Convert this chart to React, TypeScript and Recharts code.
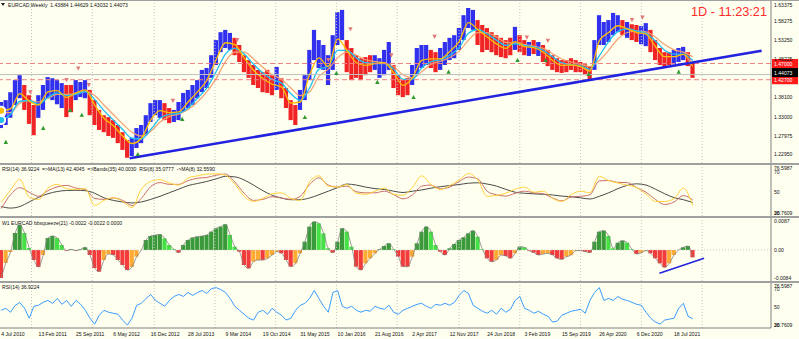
import React from "react";
import {
  ComposedChart,
  Bar,
  Line,
  XAxis,
  YAxis,
  ReferenceLine,
  ReferenceDot,
  Cell,
} from "recharts";

// EURCAD weekly. one price point = 4 weeks.
const STEP = 4;

const high = [
  1.368, 1.373, 1.394, 1.426, 1.439, 1.413, 1.386, 1.36, 1.386, 1.413,
  1.434, 1.431, 1.426, 1.418, 1.413, 1.413, 1.426, 1.421, 1.426, 1.4,
  1.373, 1.347, 1.333, 1.328, 1.32, 1.307, 1.288, 1.267, 1.273, 1.299,
  1.307, 1.333, 1.365, 1.373, 1.373, 1.365, 1.352, 1.347, 1.368, 1.392,
  1.4, 1.413, 1.426, 1.453, 1.458, 1.492, 1.532, 1.553, 1.559, 1.551,
  1.538, 1.519, 1.492, 1.479, 1.466, 1.453, 1.447, 1.453, 1.439, 1.461,
  1.431, 1.405, 1.373, 1.36, 1.4, 1.439, 1.506, 1.559, 1.532, 1.519,
  1.492, 1.545, 1.606, 1.612, 1.532, 1.511, 1.492, 1.484, 1.487, 1.492,
  1.492, 1.484, 1.506, 1.527, 1.466, 1.439, 1.426, 1.431, 1.466, 1.511,
  1.519, 1.519, 1.506, 1.5, 1.511, 1.527, 1.538, 1.545, 1.564, 1.598,
  1.617, 1.612, 1.585, 1.572, 1.564, 1.553, 1.545, 1.538, 1.532, 1.538,
  1.567, 1.545, 1.532, 1.527, 1.532, 1.527, 1.519, 1.506, 1.492, 1.484,
  1.479, 1.479, 1.484, 1.479, 1.474, 1.468, 1.463, 1.532, 1.598, 1.58,
  1.585, 1.604, 1.598, 1.585, 1.58, 1.574, 1.572, 1.569, 1.577, 1.559,
  1.532, 1.511, 1.5, 1.5, 1.506, 1.511, 1.514, 1.5, 1.474,
];

const low = [
  1.299, 1.307, 1.326, 1.36, 1.378, 1.347, 1.31, 1.28, 1.326, 1.347,
  1.378, 1.373, 1.362, 1.352, 1.328, 1.341, 1.373, 1.381, 1.378, 1.333,
  1.307, 1.294, 1.288, 1.278, 1.273, 1.259, 1.241, 1.22, 1.225, 1.246,
  1.259, 1.28, 1.315, 1.333, 1.326, 1.32, 1.312, 1.315, 1.32, 1.342,
  1.352, 1.36, 1.378, 1.394, 1.405, 1.432, 1.466, 1.5, 1.511, 1.506,
  1.492, 1.474, 1.447, 1.432, 1.413, 1.405, 1.394, 1.392, 1.386, 1.4,
  1.378, 1.352, 1.32, 1.307, 1.347, 1.373, 1.426, 1.479, 1.458, 1.453,
  1.413, 1.453, 1.519, 1.532, 1.447, 1.426, 1.432, 1.426, 1.439, 1.447,
  1.453, 1.432, 1.439, 1.453, 1.405, 1.386, 1.381, 1.386, 1.413, 1.439,
  1.458, 1.466, 1.458, 1.447, 1.453, 1.466, 1.479, 1.484, 1.506, 1.532,
  1.564, 1.559, 1.519, 1.5, 1.506, 1.5, 1.492, 1.487, 1.484, 1.492,
  1.506, 1.5, 1.492, 1.49, 1.495, 1.49, 1.474, 1.463, 1.453, 1.447,
  1.445, 1.447, 1.453, 1.447, 1.447, 1.439, 1.426, 1.453, 1.519, 1.519,
  1.527, 1.545, 1.553, 1.545, 1.538, 1.532, 1.527, 1.521, 1.516, 1.5,
  1.479, 1.466, 1.461, 1.466, 1.468, 1.474, 1.479, 1.463, 1.432,
];

// bar colour runs: u = blue (up), d = red (down)
const trendRuns: [string, number][] = [
  ["u", 5], ["d", 3], ["u", 6], ["d", 2], ["u", 3], ["d", 9], ["u", 6],
  ["u", 1], ["d", 2], ["u", 1], ["u", 12], ["d", 9], ["u", 1], ["d", 4],
  ["u", 10], ["d", 6], ["u", 4], ["d", 4], ["u", 4], ["d", 2], ["u", 8],
  ["d", 8], ["u", 1], ["d", 2], ["u", 1], ["d", 1], ["u", 1], ["d", 11],
  ["u", 6], ["d", 1], ["u", 1], ["d", 2], ["u", 2], ["d", 5], ["u", 3],
  ["d", 2],
];

// moving averages, one value every 8 weeks
const maFast = [
  1.345, 1.35, 1.39, 1.37, 1.36, 1.395, 1.398, 1.38, 1.392, 1.4, 1.36, 1.325,
  1.305, 1.278, 1.258, 1.272, 1.32, 1.345, 1.34, 1.342, 1.368, 1.395, 1.425,
  1.48, 1.525, 1.52, 1.485, 1.452, 1.43, 1.415, 1.408, 1.365, 1.368, 1.44,
  1.485, 1.462, 1.535, 1.505, 1.472, 1.465, 1.47, 1.472, 1.445, 1.412, 1.432,
  1.478, 1.482, 1.482, 1.502, 1.528, 1.578, 1.56, 1.54, 1.522, 1.51, 1.528,
  1.515, 1.512, 1.5, 1.478, 1.465, 1.466, 1.462, 1.45, 1.53, 1.552, 1.57,
  1.562, 1.552, 1.548, 1.515, 1.488, 1.488, 1.494, 1.462,
];
const maMid = [
  1.32, 1.335, 1.37, 1.372, 1.362, 1.38, 1.392, 1.385, 1.388, 1.395, 1.375,
  1.345, 1.32, 1.295, 1.272, 1.27, 1.295, 1.325, 1.335, 1.338, 1.352, 1.378,
  1.405, 1.448, 1.495, 1.51, 1.495, 1.468, 1.445, 1.428, 1.418, 1.39, 1.372,
  1.405, 1.455, 1.462, 1.505, 1.505, 1.485, 1.472, 1.47, 1.47, 1.455, 1.428,
  1.428, 1.458, 1.475, 1.48, 1.492, 1.512, 1.55, 1.56, 1.548, 1.532, 1.518,
  1.522, 1.518, 1.514, 1.505, 1.488, 1.472, 1.467, 1.464, 1.455, 1.49, 1.528,
  1.555, 1.562, 1.556, 1.55, 1.53, 1.505, 1.495, 1.495, 1.478,
];
const maSlow = [
  1.34, 1.34, 1.365, 1.372, 1.368, 1.378, 1.388, 1.388, 1.39, 1.396, 1.385,
  1.36, 1.335, 1.31, 1.288, 1.278, 1.29, 1.315, 1.33, 1.336, 1.348, 1.368,
  1.395, 1.43, 1.475, 1.5, 1.5, 1.482, 1.46, 1.44, 1.428, 1.405, 1.385, 1.395,
  1.435, 1.455, 1.485, 1.5, 1.492, 1.48, 1.475, 1.472, 1.462, 1.44, 1.432,
  1.448, 1.468, 1.476, 1.486, 1.502, 1.532, 1.552, 1.552, 1.54, 1.526, 1.524,
  1.52, 1.516, 1.51, 1.496, 1.482, 1.474, 1.468, 1.462, 1.478, 1.505, 1.535,
  1.552, 1.556, 1.554, 1.54, 1.52, 1.506, 1.5, 1.488,
];

// RSI panel, one value every 8 weeks
const RSI_STEP = 8;
const rsiFast = [
  40, 52, 62.7, 45, 43, 54, 57.7, 53.5, 52.7, 53.5, 37, 42, 44.5, 41, 35, 53,
  60.5, 62.3, 59, 57, 64, 66, 67.7, 68, 66.5, 58, 46, 41, 44, 48.5, 49.4, 44,
  42, 60, 66, 56, 55, 57.5, 49, 48, 51, 54, 48, 47, 54.7, 66, 57.5, 52.7, 56.5,
  62, 68.2, 62, 46, 46.9, 49, 53, 55, 50, 51, 44, 41, 47.7, 51, 49.5, 65.5,
  61.4, 59, 56.8, 54.5, 48, 41, 41, 43.7, 54, 37,
];
const rsiMa = [
  34, 47.5, 54.4, 50, 46, 51.5, 55.3, 56.7, 54, 52.8, 44, 43, 44.4, 42, 37, 44,
  55.5, 59.4, 57.7, 57.7, 61.3, 63.7, 64.4, 66.6, 67.7, 60, 49, 42, 43, 45.6,
  44.3, 43, 46, 57.5, 64, 57, 55, 56, 50.5, 49.4, 49.4, 51, 47.7, 43.5, 47.3,
  56, 57, 53.4, 55, 60.5, 64.8, 63, 51, 47.5, 46.2, 49, 51, 49.4, 48.5, 44.4,
  41.5, 45.4, 46, 47.5, 61, 61.4, 59.6, 59.4, 54.5, 50, 43, 38, 40.5, 46.7,
  42.4,
];
const rsiBand = [
  36, 34.5, 36, 40.5, 45, 48.5, 50.7, 51.7, 51.9, 51.5, 49, 44.5, 42, 40.5,
  39.5, 40.5, 43, 46, 49.5, 53, 56.5, 58.5, 60.5, 63, 65.5, 65, 62, 57, 51.5,
  47, 44.3, 42.7, 42.7, 44.4, 47.5, 51, 54.5, 58, 57, 55, 53.5, 52.7, 51, 49.7,
  51, 52.2, 54, 55.4, 56.5, 57.5, 58.8, 59.2, 58, 56, 52.8, 50, 49, 48.4, 48,
  47.3, 46.2, 45.6, 44.5, 43.4, 46, 49.4, 53.5, 56.7, 58.2, 57, 53, 48.5, 44.7,
  42.7, 40,
];

// bbsqueeze histogram, every 4 weeks
const squeeze = [
  -0.0084, -0.0039, -0.0006, 0.0051, 0.0075, 0.0051, 0.0006, -0.003, -0.0051,
  -0.0015, 0.0036, 0.0042, 0.0036, 0.0015, -0.0002, 0.0002, -0.0002, 0.0002,
  0.0008, -0.0015, -0.0054, -0.0065, -0.003, -0.0012, -0.0015, -0.003,
  -0.0045, -0.006, -0.0051, -0.002, 0.0, 0.003, 0.0042, 0.0045, 0.0047,
  0.0035, 0.0015, 0.0002, -0.0008, 0.0015, 0.003, 0.0037, 0.004, 0.0042,
  0.0045, 0.0055, 0.0065, 0.007, 0.0077, 0.0045, 0.001, -0.0005, -0.0045,
  -0.0055, -0.0035, -0.003, -0.003, -0.0025, -0.0015, -0.0005, -0.001, -0.003,
  -0.005, -0.004, -0.001, 0.0025, 0.007, 0.0085, 0.008, 0.005, 0.0005,
  -0.0008, 0.0025, 0.0065, 0.0055, 0.001, -0.005, -0.006, -0.004, -0.0025,
  -0.001, 0.0002, 0.0012, 0.002, 0.0002, -0.002, -0.005, -0.005, -0.002,
  0.002, 0.0055, 0.007, 0.0055, 0.0015, -0.0005, -0.0015, 0.0005, 0.0018,
  0.003, 0.0038, 0.005, 0.0058, 0.004, 0.0002, -0.0025, -0.0035, -0.003,
  -0.0015, -0.0018, -0.0025, -0.001, 0.001, 0.0008, -0.0002, -0.0008, -0.0015,
  -0.0012, -0.001, -0.0015, -0.0025, -0.0028, -0.002, -0.0015, -0.0002,
  -0.0002, -0.0005, -0.0008, 0.0025, 0.0055, 0.0058, 0.0042, 0.0005, 0.0022,
  0.0028, 0.0022, 0.0002, -0.0012, -0.0008, -0.0002, -0.001, -0.0025, -0.004,
  -0.0052, -0.004, -0.0015, 0.0, 0.0008, 0.0012, -0.0022,
];

// RSI(14) bottom panel, every 4 weeks
const rsi14 = [
  46.4, 48.6, 44.2, 51.9, 55, 48.6, 37.6, 50.8, 51.9, 55.2, 57.3, 54, 59.5, 53,
  57.3, 50.8, 57.3, 53, 46.4, 37.6, 31, 40.9, 46.4, 44.2, 43.1, 42, 35.5, 30,
  37.6, 51.9, 54.1, 59.5, 63.9, 57.3, 54.1, 50.8, 57.3, 61.7, 63.9, 61.7, 66.1,
  62.8, 66.1, 68.3, 65, 70.4, 71.5, 69.3, 66.1, 59.5, 50.8, 46.4, 42, 37.6,
  35.5, 44.2, 46.4, 42, 48.6, 44.2, 40.9, 35.5, 37.6, 46.4, 51.9, 54.1, 59.5,
  68.3, 59.5, 50.8, 44.2, 66.1, 68.3, 50.8, 48.6, 50.8, 46.4, 44.2, 46.4, 45.3,
  50.8, 48.6, 47.5, 51.9, 44.2, 42, 46.4, 48.6, 50.8, 53, 54.1, 50.8, 48.6, 53,
  51.9, 54.1, 51.9, 55.2, 62.8, 68.3, 65, 51.9, 48.6, 45.3, 43.1, 46.4, 42,
  48.6, 44.2, 47.5, 57.3, 61.7, 48.6, 46.4, 43.1, 45.3, 42, 39.8, 33.3, 34.4,
  40.9, 43.1, 45.3, 46.4, 47.5, 43.1, 57.3, 66.1, 71.5, 57.3, 59.5, 57.3, 61.7,
  58.4, 57.3, 55.2, 53, 51.9, 44.2, 37.6, 33.3, 31.1, 35.5, 36.6, 37.6, 48.6,
  54.1, 39.8, 36.9,
];

// arrows [week, price]
const buyArrows = [
  [4, 1.262], [36, 1.299], [59, 1.347], [69, 1.334], [117, 1.23], [155, 1.323],
  [260, 1.328], [287, 1.445], [322, 1.421], [353, 1.381], [383, 1.448],
  [442, 1.479], [466, 1.479], [503, 1.442], [580, 1.448],
];
const sellArrows = [
  [25, 1.394], [56, 1.426], [66, 1.457], [75, 1.413], [147, 1.371],
  [202, 1.532], [280, 1.479], [299, 1.561], [334, 1.492], [371, 1.541],
  [450, 1.539], [468, 1.53], [540, 1.585], [549, 1.592], [589, 1.477],
];

const trendLine = [[110, 1.2189], [651, 1.5039]];
const squeezeTrend = [[563.5, -0.007], [601.7, -0.0025]];

const yearWeeks = [26, 78, 131, 183, 235, 287, 339, 392, 444, 496, 548, 600];
const labelWeeks = [
  0, 32, 64, 96, 128, 160, 192, 224, 256, 288, 320, 352, 384, 416, 448, 480,
  512, 544, 576,
];
const dateLabels = [
  "4 Jul 2010", "13 Feb 2011", "25 Sep 2011", "6 May 2012", "16 Dec 2012",
  "28 Jul 2013", "9 Mar 2014", "19 Oct 2014", "31 May 2015", "10 Jan 2016",
  "21 Aug 2016", "2 Apr 2017", "12 Nov 2017", "24 Jun 2018", "3 Feb 2019",
  "15 Sep 2019", "26 Apr 2020", "6 Dec 2020", "18 Jul 2021",
];
const priceTicks = [
  1.2295, 1.27975, 1.33, 1.381, 1.48225, 1.5325, 1.58275, 1.63375,
];
const rsiTicks = [26.7609, 30, 50, 70, 76.5987];
const squeezeTicks = [-0.0084, 0, 0.0087];

const resistance = 1.47;
const support = 1.427;
const lastPrice = 1.44073;

// ---- layout / style ----
const W = 799;
const AXIS_W = 28;
const X_DOMAIN: [number, number] = [-1, 659];
const PRICE_DOMAIN: [number, number] = [1.2064, 1.6382];
const RSI_DOMAIN: [number, number] = [26.7609, 76.5987];
const SQ_DOMAIN: [number, number] = [-0.0093, 0.0096];
const FONT = "'Liberation Sans', Arial, sans-serif";
const BG = "#fffff0";
const GRID = "#c4c4c4";
const BLUE = "#3030ee";
const RED = "#f02424";
const M0 = { top: 0, right: 0, bottom: 0, left: 0 };

const trend = trendRuns.flatMap(([c, n]) => Array(n).fill(c));

const priceRows = high.map((h, i) => ({
  w: i * STEP,
  range: [low[i], h],
  up: trend[i] === "u",
  fast: i % 2 === 0 ? maFast[i / 2] : null,
  mid: i % 2 === 0 ? maMid[i / 2] : null,
  slow: i % 2 === 0 ? maSlow[i / 2] : null,
}));

const rsiRows = rsiFast.map((v, k) => ({
  w: k * RSI_STEP,
  fast: v,
  ma: rsiMa[k],
  band: rsiBand[k],
}));

const sqRows = squeeze.map((v, i) => ({ w: i * STEP, v }));
const rsi14Rows = rsi14.map((v, i) => ({ w: i * STEP, v }));

function sqColor(i: number) {
  const v = squeeze[i];
  const prev = i > 0 ? squeeze[i - 1] : v;
  if (v >= 0) return v >= prev ? "#3a9a3a" : "#44e044";
  return v <= prev ? "#f23c3c" : "#ffaa33";
}

function Small({ x, y, text, fill = "#111", size = 6 }: any) {
  return (
    <text
      transform={`translate(${x},${y}) scale(0.85,1)`}
      fontSize={size}
      fill={fill}
      fontFamily={FONT}
      style={{ whiteSpace: "pre" }}
    >
      {text}
    </text>
  );
}

const makeTick =
  (fmt: (v: number) => string, lo: number, hi: number) => (props: any) => {
    const { x, y, payload } = props;
    const v = payload.value;
    const dy = v === hi ? 5 : v === lo ? -1 : 2.2;
    return <Small x={x} y={y + dy} text={fmt(v)} />;
  };

function DateTick(props: any) {
  const { x, y, payload } = props;
  const idx = labelWeeks.indexOf(payload.value);
  return <Small x={x} y={y + 7.5} text={dateLabels[idx] ?? ""} />;
}

function PriceTag({ viewBox, text, bg, dy = 0 }: any) {
  const x = viewBox.x + viewBox.width + 1;
  const y = viewBox.y + dy;
  return (
    <g>
      <rect x={x} y={y - 4.5} width={26} height={9} fill={bg} />
      <Small x={x + 2} y={y + 2.2} text={text} fill="#fff" />
    </g>
  );
}

const upShape = (p: any) => (
  <path
    d={`M${p.cx - 2.2},${p.cy + 2}L${p.cx},${p.cy - 2.2}L${p.cx + 2.2},${p.cy + 2}Z`}
    fill="#2f9a2f"
  />
);
const downShape = (p: any) => (
  <path
    d={`M${p.cx - 2.2},${p.cy - 2}L${p.cx},${p.cy + 2.2}L${p.cx + 2.2},${p.cy - 2}Z`}
    fill="#e07a7a"
  />
);

const yearGrid = yearWeeks.map((w) => (
  <ReferenceLine key={"g" + w} x={w} stroke={GRID} strokeDasharray="1 2" />
));

const axisLine = { stroke: "#808080" };

export default function App() {
  return (
    <div
      style={{
        position: "absolute",
        left: 0,
        top: 0,
        width: W,
        height: 339,
        background: BG,
        overflow: "hidden",
      }}
    >
      {/* main price panel */}
      <div style={{ position: "absolute", left: 0, top: 0 }}>
        <ComposedChart width={W} height={163} data={priceRows} margin={M0} barGap={0} barCategoryGap={0}>
          <XAxis type="number" dataKey="w" domain={X_DOMAIN} hide allowDataOverflow />
          <YAxis
            orientation="right"
            width={AXIS_W}
            domain={PRICE_DOMAIN}
            ticks={priceTicks}
            interval={0}
            tick={makeTick((v) => v.toFixed(5), -1, 1.63375)}
            tickLine={false}
            tickSize={0}
            tickMargin={3}
            axisLine={axisLine}
            allowDataOverflow
          />
          {yearGrid}
          <Bar dataKey="range" barSize={6} isAnimationActive={false}>
            {priceRows.map((r, i) => (
              <Cell key={i} fill={r.up ? BLUE : RED} />
            ))}
          </Bar>
          <Line dataKey="slow" stroke="#f4a070" strokeWidth={1.2} dot={false} connectNulls type="monotone" isAnimationActive={false} />
          <Line dataKey="mid" stroke="#1ec0f0" strokeWidth={1.3} dot={false} connectNulls type="monotone" isAnimationActive={false} />
          <Line dataKey="fast" stroke="#ffbf00" strokeWidth={1.3} dot={false} connectNulls type="monotone" isAnimationActive={false} />
          <ReferenceLine
            y={resistance}
            stroke="#f08080"
            strokeDasharray="5 3"
            label={(p: any) => <PriceTag viewBox={p.viewBox} text="1.47000" bg="#ff1a1a" />}
          />
          <ReferenceLine
            y={support}
            stroke="#f08080"
            strokeDasharray="5 3"
            label={(p: any) => <PriceTag viewBox={p.viewBox} text="1.42700" bg="#ff1a1a" />}
          />
          <ReferenceLine
            y={lastPrice}
            stroke="#c0c0c0"
            label={(p: any) => <PriceTag viewBox={p.viewBox} text="1.44073" bg="#000" dy={-2} />}
          />
          <ReferenceLine
            segment={trendLine.map(([x, y]) => ({ x, y }))}
            stroke="#2222e0"
            strokeWidth={2.5}
          />
          {buyArrows.map(([w, p], i) => (
            <ReferenceDot key={"b" + i} x={w} y={p} r={2} shape={upShape} />
          ))}
          {sellArrows.map(([w, p], i) => (
            <ReferenceDot key={"s" + i} x={w} y={p} r={2} shape={downShape} />
          ))}
        </ComposedChart>
      </div>

      {/* RSI / MA / bands panel */}
      <div style={{ position: "absolute", left: 0, top: 165 }}>
        <ComposedChart width={W} height={51} data={rsiRows} margin={M0}>
          <XAxis type="number" dataKey="w" domain={X_DOMAIN} hide allowDataOverflow />
          <YAxis
            orientation="right"
            width={AXIS_W}
            domain={RSI_DOMAIN}
            ticks={rsiTicks}
            interval={0}
            tick={makeTick((v) => String(v), RSI_DOMAIN[0], RSI_DOMAIN[1])}
            tickLine={false}
            tickSize={0}
            tickMargin={3}
            axisLine={axisLine}
            allowDataOverflow
          />
          {yearGrid}
          <Line dataKey="band" stroke="#4a4a4a" strokeWidth={1} dot={false} type="monotone" isAnimationActive={false} />
          <Line dataKey="ma" stroke="#c8706a" strokeWidth={1} dot={false} type="monotone" isAnimationActive={false} />
          <Line dataKey="fast" stroke="#ffd23a" strokeWidth={1} dot={false} type="monotone" isAnimationActive={false} />
        </ComposedChart>
      </div>

      {/* bbsqueeze panel */}
      <div style={{ position: "absolute", left: 0, top: 218 }}>
        <ComposedChart width={W} height={63} data={sqRows} margin={M0} barGap={0} barCategoryGap={0}>
          <XAxis type="number" dataKey="w" domain={X_DOMAIN} hide allowDataOverflow />
          <YAxis
            orientation="right"
            width={AXIS_W}
            domain={SQ_DOMAIN}
            ticks={squeezeTicks}
            interval={0}
            tick={makeTick((v) => (v === 0 ? "0.00" : v.toFixed(4)), -1, -1)}
            tickLine={false}
            tickSize={0}
            tickMargin={3}
            axisLine={axisLine}
            allowDataOverflow
          />
          {yearGrid}
          <ReferenceLine y={0} stroke={GRID} strokeDasharray="1 2" />
          <Bar dataKey="v" barSize={6} isAnimationActive={false}>
            {sqRows.map((_, i) => (
              <Cell key={i} fill={sqColor(i)} />
            ))}
          </Bar>
          <Line dataKey="v" stroke="#808080" strokeWidth={0.8} dot={false} type="monotone" isAnimationActive={false} />
          <ReferenceLine
            segment={squeezeTrend.map(([x, y]) => ({ x, y }))}
            stroke="#2222e0"
            strokeWidth={1.5}
          />
        </ComposedChart>
      </div>

      {/* RSI(14) panel with date axis */}
      <div style={{ position: "absolute", left: 0, top: 283 }}>
        <ComposedChart width={W} height={56} data={rsi14Rows} margin={M0}>
          <XAxis
            type="number"
            dataKey="w"
            domain={X_DOMAIN}
            ticks={labelWeeks}
            interval={0}
            height={11}
            tick={DateTick}
            tickLine={false}
            tickSize={0}
            tickMargin={0}
            axisLine={axisLine}
            allowDataOverflow
          />
          <YAxis
            orientation="right"
            width={AXIS_W}
            domain={RSI_DOMAIN}
            ticks={rsiTicks}
            interval={0}
            tick={makeTick((v) => String(v), RSI_DOMAIN[0], RSI_DOMAIN[1])}
            tickLine={false}
            tickSize={0}
            tickMargin={3}
            axisLine={axisLine}
            allowDataOverflow
          />
          {yearGrid}
          <Line dataKey="v" stroke="#3a9cff" strokeWidth={1} dot={false} isAnimationActive={false} />
        </ComposedChart>
      </div>

      {/* separators, captions, timer */}
      <svg
        width={W}
        height={339}
        style={{ position: "absolute", left: 0, top: 0, pointerEvents: "none" }}
      >
        <rect x={0} y={0} width={W} height={1} fill="#a0a0a0" />
        <rect x={0} y={163} width={W} height={2} fill="#a0a0a0" />
        <rect x={0} y={216} width={W} height={2} fill="#a0a0a0" />
        <rect x={0} y={281} width={W} height={2} fill="#a0a0a0" />
        <path d="M1,3L5,3L3,6Z" fill="#222" />
        <Small x={8} y={7.3} text="EURCAD,Weekly  1.43884 1.44629 1.43032 1.44073" />
        <Small
          x={2}
          y={170.5}
          text="RSI(14) 36.9224  =>MA(13) 42.4045  =>Bands(35) 40.0030  RSI(8) 35.0777  ->MA(8) 32.5590"
        />
        <Small x={2} y={224.5} text="W1 EURCAD bbsqueeze(21) -0.0022 -0.0022 0.0000" />
        <Small x={2} y={289} text="RSI(14) 36.9224" />
        <text
          x={691}
          y={15.5}
          fontSize={13.5}
          fill="#ff2a2a"
          fontFamily={FONT}
          textLength={76}
          lengthAdjust="spacingAndGlyphs"
        >
          1D - 11:23:21
        </text>
      </svg>
    </div>
  );
}
